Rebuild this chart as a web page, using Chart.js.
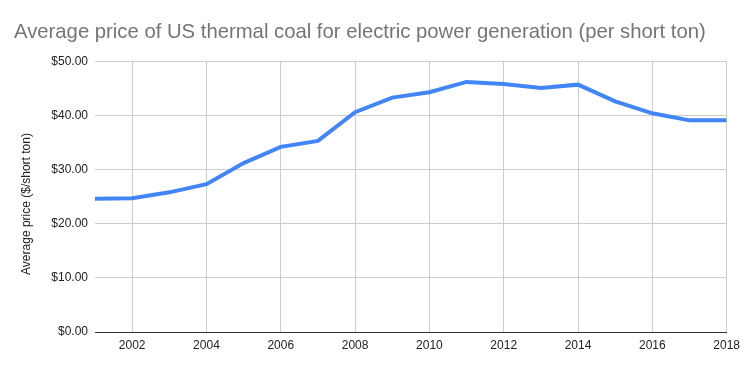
<!DOCTYPE html>
<html>
<head>
<meta charset="utf-8">
<script src="https://cdn.jsdelivr.net/npm/chart.js@4/dist/chart.umd.min.js"></script>
<style>
html,body{margin:0;padding:0;background:#fff;}
#wrap{width:746px;height:371px;position:relative;}
</style>
</head>
<body>
<div id="wrap"><canvas id="c" width="746" height="371"></canvas></div>
<script>
const years = [2001,2002,2003,2004,2005,2006,2007,2008,2009,2010,2011,2012,2013,2014,2015,2016,2017,2018];
const prices = [24.6,24.7,25.8,27.3,31.2,34.2,35.3,40.6,43.3,44.3,46.2,45.8,45.1,45.7,42.6,40.4,39.1,39.1];
const xTicks = [2002,2004,2006,2008,2010,2012,2014,2016,2018];
const yTicks = [0,10,20,30,40,50];
const chartTitle = 'Average price of US thermal coal for electric power generation (per short ton)';
const yAxisTitle = 'Average price ($/short ton)';

const FONT = 'Arial, "Liberation Sans", sans-serif';

const yTitlePlugin = {
  id: 'yTitle',
  afterDraw(chart) {
    const ctx = chart.ctx;
    ctx.save();
    ctx.translate(27, 204);
    ctx.rotate(-Math.PI / 2);
    ctx.font = '12px ' + FONT;
    ctx.fillStyle = '#222222';
    ctx.textAlign = 'center';
    ctx.textBaseline = 'middle';
    ctx.fillText(yAxisTitle, 0, 0);
    ctx.restore();
  }
};

new Chart(document.getElementById('c'), {
  type: 'line',
  data: {
    datasets: [{
      data: years.map((y,i)=>({x:y, y:prices[i]})),
      borderColor: '#4285F4',
      borderWidth: 4,
      pointRadius: 0,
      tension: 0,
      fill: false
    }]
  },
  plugins: [yTitlePlugin],
  options: {
    responsive: false,
    animation: false,
    layout: { padding: { left: 14, right: 18, top: 0, bottom: 0 } },
    plugins: {
      legend: { display: false },
      tooltip: { enabled: false },
      title: {
        display: true,
        text: chartTitle,
        align: 'start',
        color: '#757575',
        font: { family: FONT, size: 20.3, weight: 'normal', lineHeight: 1.2 },
        padding: { top: 20, bottom: 17 }
      }
    },
    scales: {
      x: {
        type: 'linear',
        min: 2001, max: 2018,
        afterBuildTicks: (s) => { s.ticks = xTicks.map(v => ({value: v})); },
        afterFit: (s) => { s.height = 371 - 332; },
        grid: { color: '#cccccc', drawTicks: false },
        border: { display: true, color: '#333333', width: 1 },
        ticks: {
          color: '#222222', font: { family: FONT, size: 12 }, padding: 6,
          callback: (v) => String(v), maxRotation: 0, autoSkip: false
        }
      },
      y: {
        min: 0, max: 50,
        afterBuildTicks: (s) => { s.ticks = yTicks.map(v => ({value: v})); },
        afterFit: (s) => { s.width = 95 - 14; },
        grid: { color: '#cccccc', drawTicks: false },
        border: { display: false },
        ticks: {
          color: '#222222', font: { family: FONT, size: 12 }, padding: 7,
          callback: (v) => '$' + Number(v).toFixed(2)
        },
        title: { display: false }
      }
    }
  }
});
</script>
</body>
</html>
